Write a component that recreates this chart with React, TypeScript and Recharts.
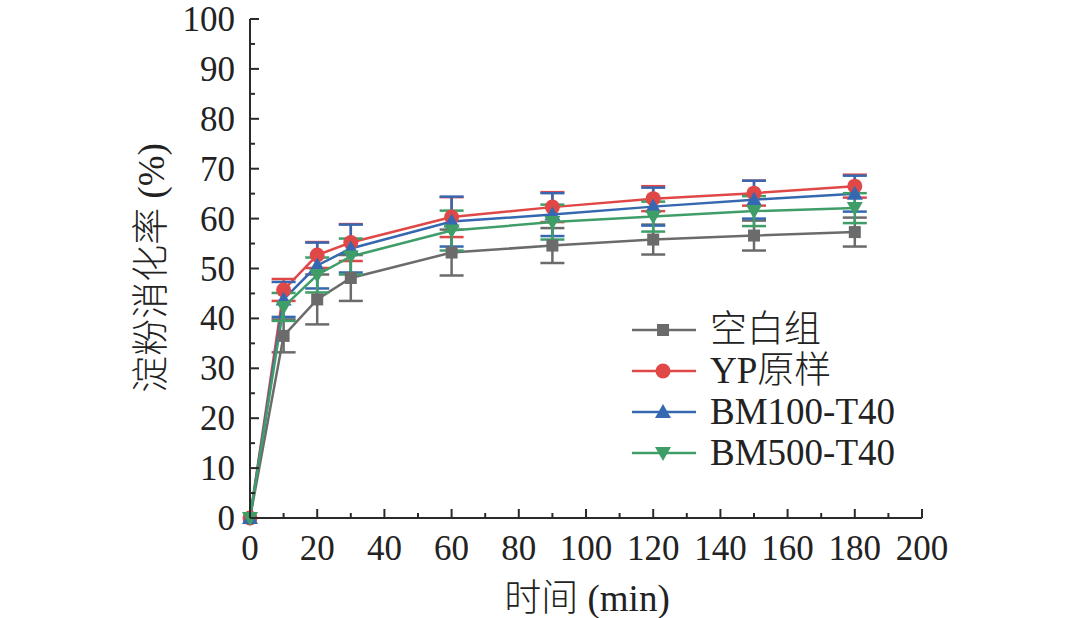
import React from 'react';
import { LineChart, Line, XAxis, YAxis, ErrorBar } from 'recharts';

const times = [0, 10, 20, 30, 60, 90, 120, 150, 180];
const blankVals = [0, 36.5, 43.8, 48.1, 53.2, 54.6, 55.8, 56.6, 57.3];
const blankErr = [0, 3.3, 5.0, 4.6, 4.6, 3.5, 3.0, 3.0, 2.9];
const ypVals = [0, 45.7, 52.7, 55.2, 60.3, 62.3, 64.0, 65.1, 66.5];
const ypErr = [0, 2.2, 2.6, 3.7, 4.0, 3.0, 2.5, 2.5, 2.3];
const bm100Vals = [0, 43.8, 50.6, 54.0, 59.4, 60.8, 62.4, 63.8, 65.0];
const bm100Err = [0, 3.5, 4.6, 4.8, 5.0, 4.3, 3.8, 3.8, 3.6];
const bm500Vals = [0, 42.3, 48.7, 52.4, 57.6, 59.3, 60.4, 61.5, 62.1];
const bm500Err = [0, 2.8, 3.5, 3.6, 4.0, 3.5, 3.0, 3.0, 3.0];

const xTicks = [0, 10, 20, 30, 40, 50, 60, 70, 80, 90, 100, 110, 120, 130, 140, 150, 160, 170, 180, 190, 200];
const yTicks = [0, 5, 10, 15, 20, 25, 30, 35, 40, 45, 50, 55, 60, 65, 70, 75, 80, 85, 90, 95, 100];

const seriesNames = ['空白组', 'YP原样', 'BM100-T40', 'BM500-T40'];
const colors = ['#6b6b6b', '#e04848', '#3568b0', '#3f9e68'];
const shapes = ['square', 'circle', 'up', 'down'];

const data = times.map((t, i) => ({
  t,
  s0: blankVals[i], e0: blankErr[i],
  s1: ypVals[i], e1: ypErr[i],
  s2: bm100Vals[i], e2: bm100Err[i],
  s3: bm500Vals[i], e3: bm500Err[i],
}));

const FONT = '"Liberation Serif", "Times New Roman", "Noto Sans CJK SC", serif';
const AXIS = '#2a2a2a';

function Marker({ shape, cx, cy, color }: { shape: string; cx: number; cy: number; color: string }) {
  if (shape === 'square') return <rect x={cx - 6} y={cy - 6} width={12} height={12} fill={color} />;
  if (shape === 'circle') return <circle cx={cx} cy={cy} r={7.5} fill={color} />;
  if (shape === 'up') return <polygon points={`${cx},${cy - 8} ${cx - 8},${cy + 6} ${cx + 8},${cy + 6}`} fill={color} />;
  return <polygon points={`${cx},${cy + 8} ${cx - 8},${cy - 6} ${cx + 8},${cy - 6}`} fill={color} />;
}

const makeDot = (idx: number) => (props: any) => {
  const { cx, cy, index } = props;
  return <Marker key={`d${idx}-${index}`} shape={shapes[idx]} cx={cx} cy={cy} color={colors[idx]} />;
};

const XTick = (props: any) => {
  const { x, y, payload } = props;
  const major = payload.value % 20 === 0;
  return (
    <g>
      <line x1={x} x2={x} y1={y} y2={y - (major ? 9 : 5)} stroke={AXIS} strokeWidth={2} />
      {major && (
        <text x={x} y={y + 42} textAnchor="middle" fontFamily={FONT} fontSize={35} fill="#222">
          {payload.value}
        </text>
      )}
    </g>
  );
};

const YTick = (props: any) => {
  const { x, y, payload } = props;
  const major = payload.value % 10 === 0;
  return (
    <g>
      <line x1={x} x2={x + (major ? 9 : 5)} y1={y} y2={y} stroke={AXIS} strokeWidth={2} />
      {major && (
        <text x={x - 15} y={y + 12} textAnchor="end" fontFamily={FONT} fontSize={35} fill="#222">
          {payload.value}
        </text>
      )}
    </g>
  );
};

export default function App() {
  return (
    <div style={{ position: 'absolute', left: 0, top: 0, width: 1080, height: 618, background: '#fff', overflow: 'hidden' }}>
      <LineChart width={1080} height={618} data={data} margin={{ top: 19, right: 158, bottom: 0, left: 0 }}>
        <XAxis
          dataKey="t"
          type="number"
          domain={[0, 200]}
          ticks={xTicks}
          interval={0}
          tickSize={0}
          tickMargin={0}
          tickLine={false}
          tick={<XTick />}
          height={100}
          stroke={AXIS}
          strokeWidth={2}
        />
        <YAxis
          type="number"
          domain={[0, 100]}
          ticks={yTicks}
          interval={0}
          tickSize={0}
          tickMargin={0}
          tickLine={false}
          tick={<YTick />}
          width={250}
          stroke={AXIS}
          strokeWidth={2}
        />
        {[0, 1, 2, 3].map((i) => (
          <Line
            key={i}
            dataKey={`s${i}`}
            name={seriesNames[i]}
            stroke={colors[i]}
            strokeWidth={2.5}
            dot={makeDot(i)}
            activeDot={false}
            isAnimationActive={false}
          >
            <ErrorBar dataKey={`e${i}`} direction="y" width={12} stroke={colors[i]} strokeWidth={2.5} isAnimationActive={false} />
          </Line>
        ))}
      </LineChart>
      <div style={{ position: 'absolute', left: 630, top: 309, fontFamily: FONT, fontSize: 37, color: '#222' }}>
        {seriesNames.map((n, i) => (
          <div key={n} style={{ display: 'flex', alignItems: 'center', height: 41, whiteSpace: 'nowrap' }}>
            <svg width={68} height={30} style={{ marginRight: 12 }}>
              <line x1={2} x2={66} y1={15} y2={15} stroke={colors[i]} strokeWidth={2.5} />
              <Marker shape={shapes[i]} cx={33} cy={15} color={colors[i]} />
            </svg>
            <span style={{ lineHeight: '41px', fontWeight: 300 }}>{n}</span>
          </div>
        ))}
      </div>
      <div
        style={{
          position: 'absolute', left: 151, top: 268, transform: 'translate(-50%, -50%) rotate(-90deg)',
          fontFamily: FONT, fontSize: 37, lineHeight: '37px', color: '#222', whiteSpace: 'nowrap', fontWeight: 300,
        }}
      >
        淀粉消化率 (%)
      </div>
      <div
        style={{
          position: 'absolute', left: 587, top: 598, transform: 'translate(-50%, -50%)',
          fontFamily: FONT, fontSize: 37, lineHeight: '37px', color: '#222', whiteSpace: 'nowrap', fontWeight: 300,
        }}
      >
        时间 (min)
      </div>
    </div>
  );
}
